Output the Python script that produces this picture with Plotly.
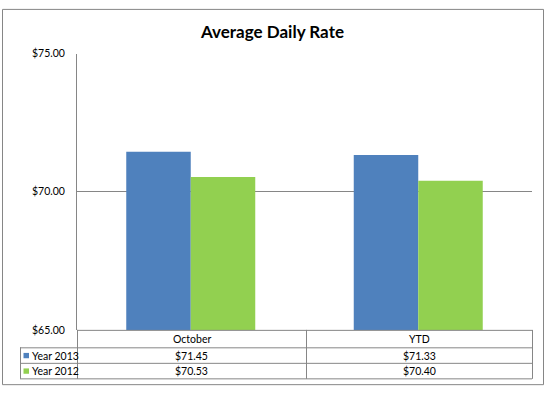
import plotly.graph_objects as go

categories = ["October", "YTD"]
series_names = ["Year 2013", "Year 2012"]
year_2013 = [71.45, 71.33]
year_2012 = [70.53, 70.40]
series_values = [year_2013, year_2012]
series_colors = ["#4F81BD", "#92D050"]
tick_vals = [65, 70, 75]
title_text = "Average Daily Rate"

W, H = 546, 396
FONT = "Lato, Carlito, Calibri, sans-serif"
GRAY = "#868686"
SMALL = 10.5


def px(x):
    return x / W


def py(y):
    return 1 - y / H


# layout geometry (pixels)
plot_l, plot_r, plot_t, plot_b = 77, 532, 49, 334
leg_l = 20
row_h = [334, 352, 368, 384]
col_x = [77, 306, 532]

fig = go.Figure()
for name, vals, col in zip(series_names, series_values, series_colors):
    fig.add_trace(go.Bar(x=categories, y=vals, name=name, marker=dict(color=col, line=dict(width=0)),
                         hoverinfo="skip"))

shapes = []
# outer border
shapes.append(dict(type="rect", xref="paper", yref="paper", x0=px(2.5), x1=px(543.5), y0=py(390.5), y1=py(3.5),
                   line=dict(color=GRAY, width=1)))


def hline(x0, x1, y):
    shapes.append(dict(type="line", xref="paper", yref="paper", x0=px(x0), x1=px(x1), y0=py(y + 0.5), y1=py(y + 0.5),
                       line=dict(color=GRAY, width=1)))


def vline(x, y0, y1):
    shapes.append(dict(type="line", xref="paper", yref="paper", x0=px(x + 0.5), x1=px(x + 0.5), y0=py(y0), y1=py(y1),
                       line=dict(color=GRAY, width=1)))


# table lines
hline(col_x[0], col_x[-1], row_h[0])
for y in row_h[1:]:
    hline(leg_l, col_x[-1], y)
for x in col_x:
    vline(x, row_h[0], row_h[-1] + 0.5)
vline(leg_l, row_h[1], row_h[-1] + 0.5)

annotations = []
annotations.append(dict(text="<b>%s</b>" % title_text, xref="paper", yref="paper", x=px(272), y=py(26),
                        showarrow=False, xanchor="center", yanchor="middle",
                        font=dict(family=FONT, size=17, color="#000000")))

# header row
for i, cat in enumerate(categories):
    cx = (col_x[i] + col_x[i + 1]) / 2
    annotations.append(dict(text=cat, xref="paper", yref="paper", x=px(cx), y=py((row_h[0] + row_h[1]) / 2 + 0.5),
                            showarrow=False, xanchor="center", yanchor="middle",
                            font=dict(family=FONT, size=SMALL, color="#000000")))

# data rows
for r, (name, vals, col) in enumerate(zip(series_names, series_values, series_colors)):
    yc = (row_h[r + 1] + row_h[r + 2]) / 2 + 0.5
    shapes.append(dict(type="rect", xref="paper", yref="paper", x0=px(23.5), x1=px(29), y0=py(yc + 2.75), y1=py(yc - 2.75),
                       fillcolor=col, line=dict(width=0)))
    annotations.append(dict(text=name, xref="paper", yref="paper", x=px(30), y=py(yc),
                            showarrow=False, xanchor="left", yanchor="middle",
                            font=dict(family=FONT, size=SMALL, color="#000000")))
    for i, v in enumerate(vals):
        cx = (col_x[i] + col_x[i + 1]) / 2
        annotations.append(dict(text="$%.2f" % v, xref="paper", yref="paper", x=px(cx), y=py(yc),
                                showarrow=False, xanchor="center", yanchor="middle",
                                font=dict(family=FONT, size=SMALL, color="#000000")))

fig.update_layout(
    width=W, height=H, autosize=False,
    margin=dict(l=0, r=0, t=0, b=0),
    paper_bgcolor="#FFFFFF", plot_bgcolor="#FFFFFF",
    showlegend=False, hovermode=False,
    barmode="group", bargap=0.433, bargroupgap=0,
    shapes=shapes, annotations=annotations,
    xaxis=dict(domain=[px(plot_l), px(plot_r)], showticklabels=False, showgrid=False, zeroline=False,
               showline=False, ticks=""),
    yaxis=dict(domain=[py(plot_b), py(plot_t)], range=[65, 75], tickvals=tick_vals, tickformat="$.2f",
               showgrid=True, gridcolor=GRAY, gridwidth=1, zeroline=False,
               showline=True, linecolor=GRAY, linewidth=1, ticks="", ticklabelstandoff=9,
               tickfont=dict(family=FONT, size=SMALL, color="#000000")),
)

fig.write_html("out.html", config={"displayModeBar": False, "staticPlot": True},
               post_script="document.body.style.margin='0';document.body.style.overflow='hidden';")
